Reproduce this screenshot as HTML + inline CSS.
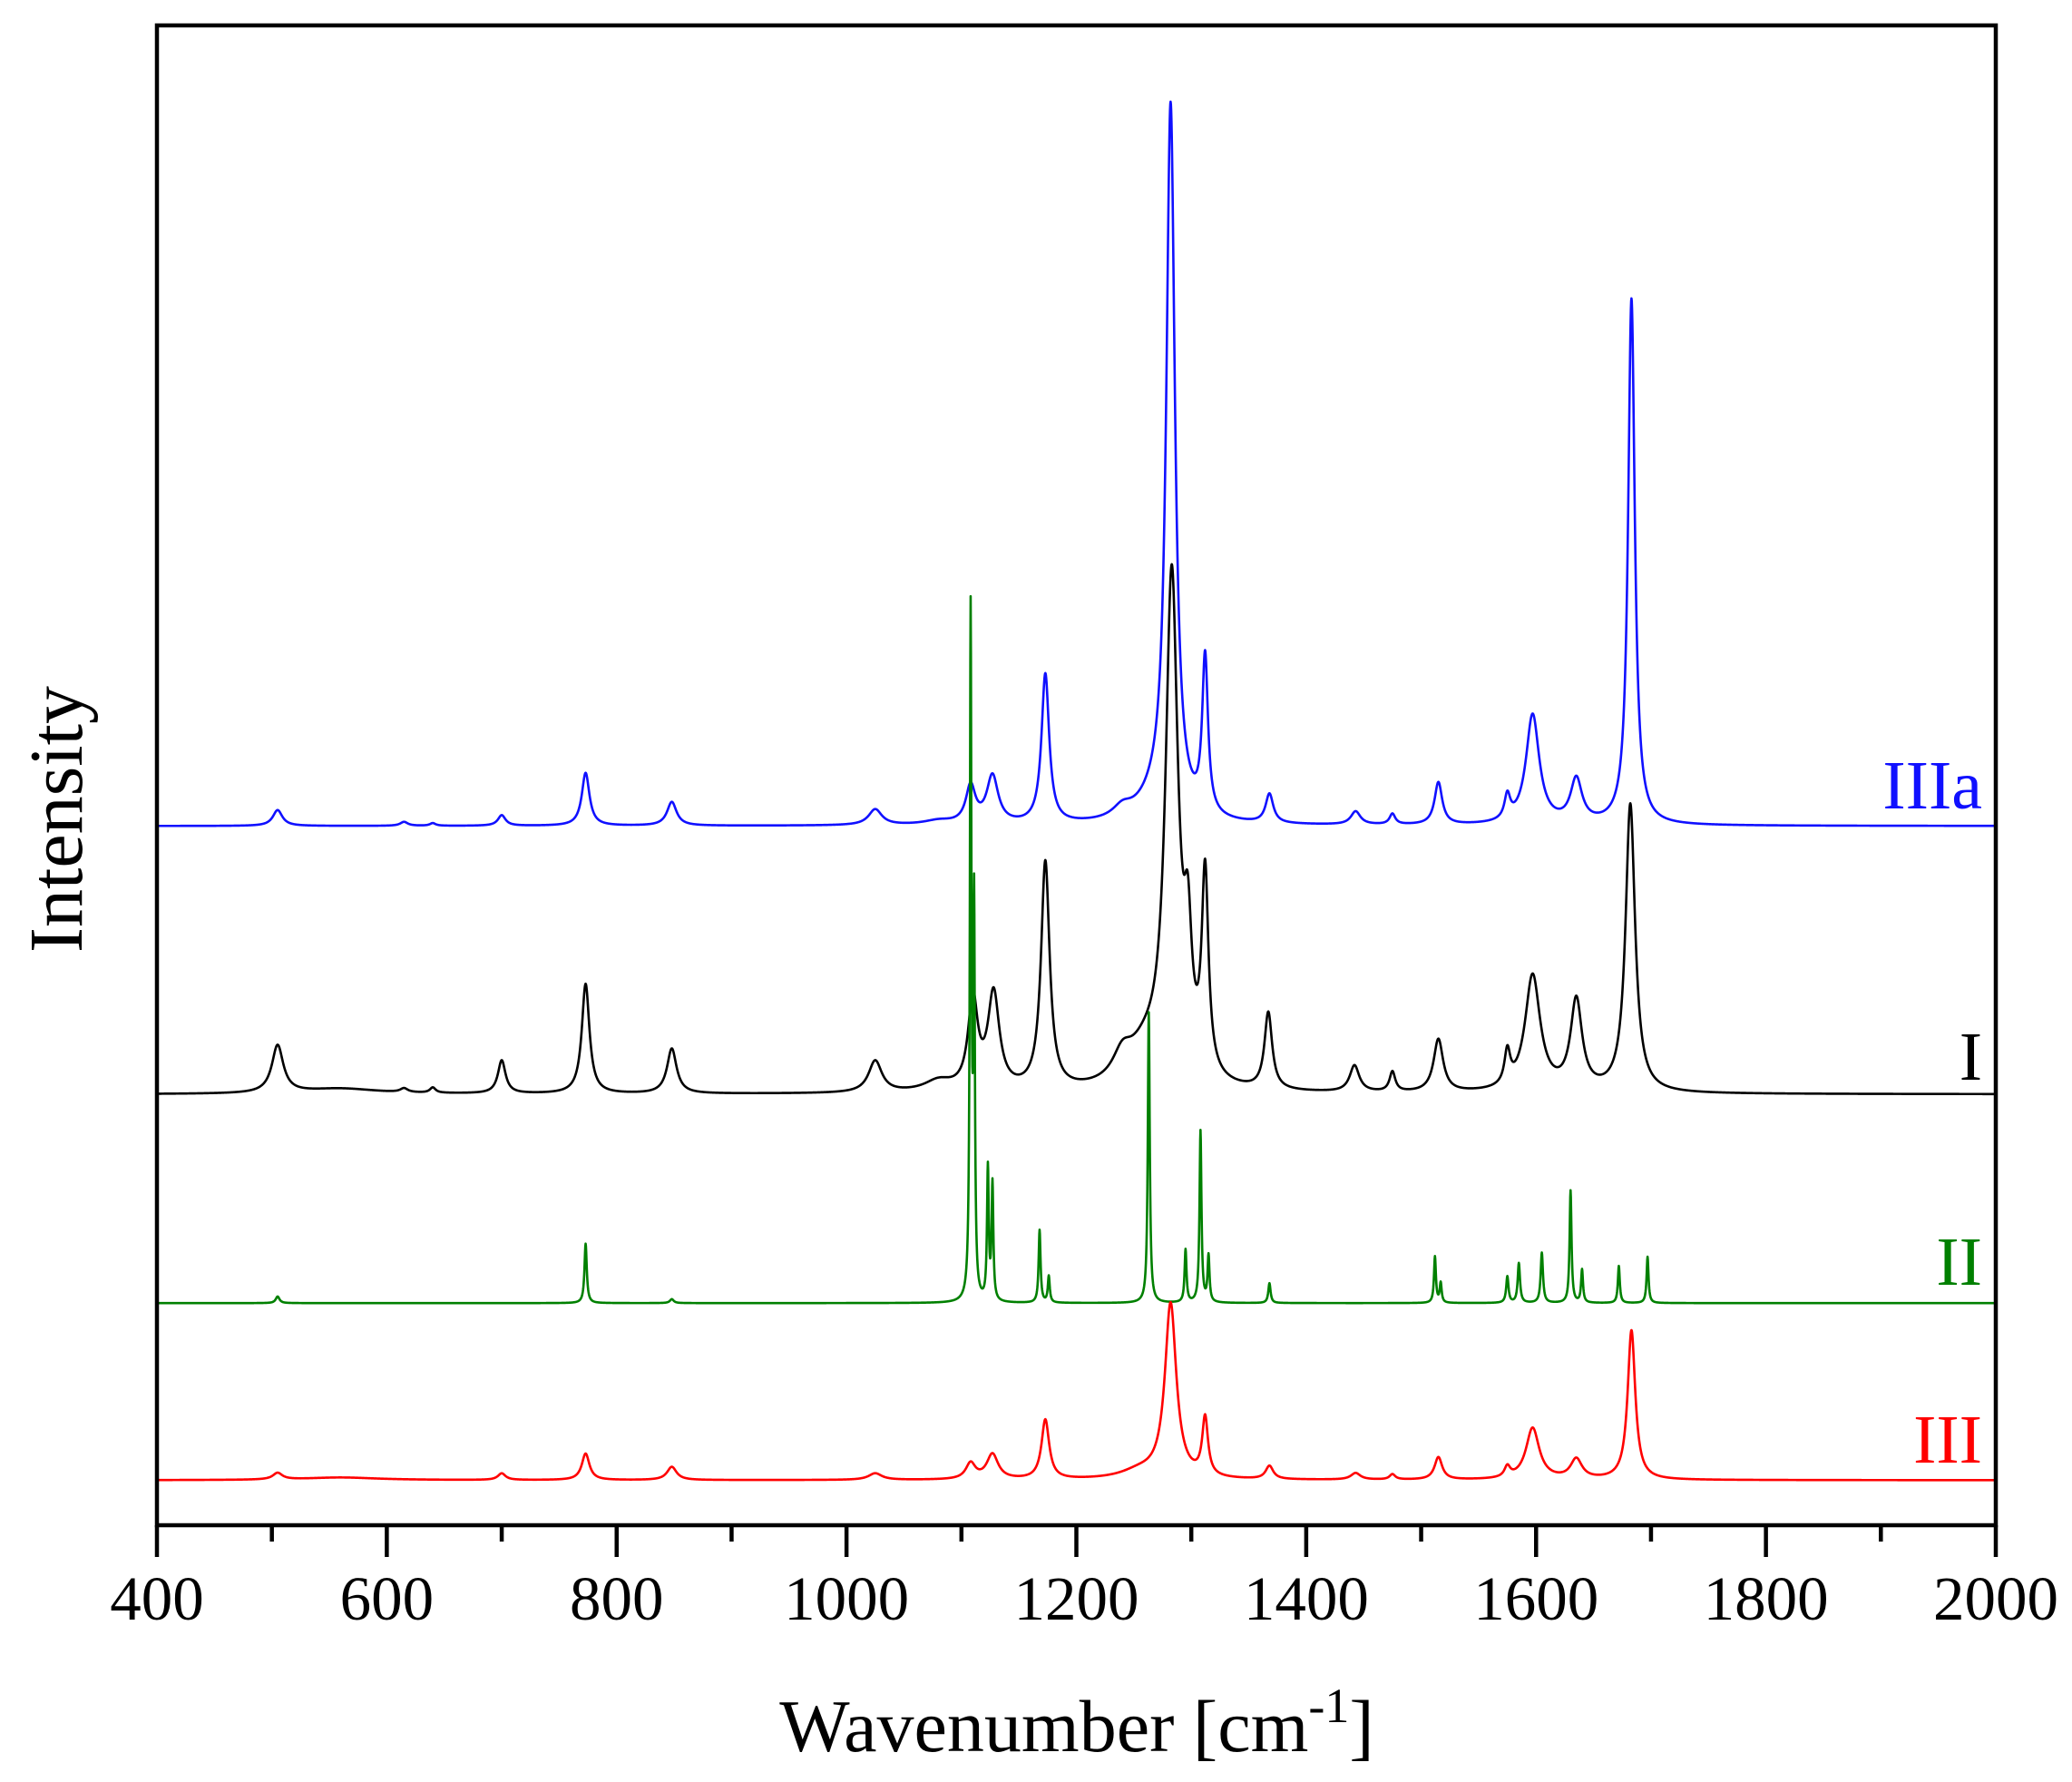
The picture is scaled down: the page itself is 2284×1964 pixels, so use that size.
<!DOCTYPE html>
<html><head><meta charset="utf-8"><style>
html,body{margin:0;padding:0;background:#fff;}
svg{display:block;}
text{font-family:"Liberation Serif",serif;}
</style></head><body>
<svg id="s" width="2284" height="1964" xmlns="http://www.w3.org/2000/svg">
<rect width="2284" height="1964" fill="#fff"/>
<g id="series"></g>
<rect x="173" y="28" width="2027" height="1653" fill="none" stroke="#000" stroke-width="4.5"/>
<g id="ticks" stroke="#000" stroke-width="4.5"></g>
<g font-size="69" text-anchor="middle" id="tl"></g>
<text x="1187" y="1930" font-size="82" text-anchor="middle">Wavenumber [cm<tspan font-size="54" dy="-32">-1</tspan><tspan dy="32">]</tspan></text>
<text transform="translate(90,903) rotate(-90)" font-size="84" text-anchor="middle">Intensity</text>
<text x="2185" y="891" font-size="76" text-anchor="end" fill="#1010ff">IIIa</text>
<text x="2185" y="1190" font-size="76" text-anchor="end" fill="#000">I</text>
<text x="2185" y="1416" font-size="76" text-anchor="end" fill="#008000">II</text>
<text x="2185" y="1612" font-size="76" text-anchor="end" fill="#ff0000">III</text>
</svg>
<script>
var S=1.4566;
function X(w){return 173+(w-400)*2027/1600;}
var ns="http://www.w3.org/2000/svg";
var tk=document.getElementById('ticks'),tl=document.getElementById('tl');
for(var w=400;w<=2000;w+=100){
 var major=(w%200==0);
 var l=document.createElementNS(ns,'line');
 l.setAttribute('x1',X(w));l.setAttribute('x2',X(w));
 l.setAttribute('y1',1681);l.setAttribute('y2',1681+(major?35:18));
 tk.appendChild(l);
 if(major){var t=document.createElementNS(ns,'text');t.setAttribute('x',X(w));t.setAttribute('y',1785);t.textContent=w;tl.appendChild(t);}
}
var series=[
 {c:'#1010ff',b:625,p:[[505,12,5],[615,3,4],[640,2,3],[700,8,4],[773,40,4],[848,18,5],[1025,12,7],[1080,3,15],[1108,28,5],[1127,36,6],[1173,113,4],[1240,8,10],[1282,535,4.5],[1270,15,20],[1312,118,3],[1368,22,4],[1443,10,5],[1475,8,3],[1515,32,4],[1575,18,3],[1597,83,7],[1635,33,6],[1683,398,3.5]]},
 {c:'#000',b:828,p:[[505,36,6],[560,4,40],[615,3,4],[640,4,3],[700,25,4],[773,83,4],[848,34,5],[1025,24,7],[1080,8,15],[1110,68,5],[1128,72,6],[1173,172,4.5],[1240,18,10],[1283,380,6.5],[1260,25,20],[1297,85,4],[1312,150,3.5],[1367,58,4],[1442,20,5],[1475,15,3],[1515,40,5],[1575,25,3],[1597,88,8],[1635,68,6],[1682,218,5]]},
 {c:'#008000',b:986,p:[[505,5,2],[773,45,1.2],[848,3,2],[1108,515,0.8],[1111,290,0.8],[1123,100,0.9],[1127,88,0.9],[1168,55,1],[1176,20,1],[1263,220,1],[1295,40,1],[1308,130,1],[1315,35,1],[1368,15,1.2],[1512,35,1],[1517,15,1],[1575,20,1.2],[1585,30,1.2],[1605,38,1.2],[1630,85,1],[1640,25,1],[1672,28,1],[1697,35,1]]},
 {c:'#ff0000',b:1120,p:[[505,5,5],[560,2,40],[700,5,4],[773,20,4],[848,10,5],[1025,5,7],[1108,12,5],[1127,19,6],[1173,45,4],[1282,132,6],[1255,6,20],[1312,44,3],[1368,10,4],[1443,5,5],[1475,4,3],[1515,17,4],[1575,8,3],[1597,39,7],[1635,15,6],[1683,113,4]]}
];
var g=document.getElementById('series');
series.forEach(function(s){
 var d='';
 for(var w=400;w<=2000;w+=0.25){
  var y=0;
  s.p.forEach(function(p){var u=(w-p[0])/p[2];y+=p[1]/(1+u*u);});
  d+=(d?'L':'M')+X(w).toFixed(2)+' '+((s.b-y)*S).toFixed(2);
 }
 var e=document.createElementNS(ns,'path');
 e.setAttribute('d',d);e.setAttribute('fill','none');e.setAttribute('stroke',s.c);e.setAttribute('stroke-width','2.6');e.setAttribute('stroke-linejoin','round');
 g.appendChild(e);
});
</script>
</body></html>
